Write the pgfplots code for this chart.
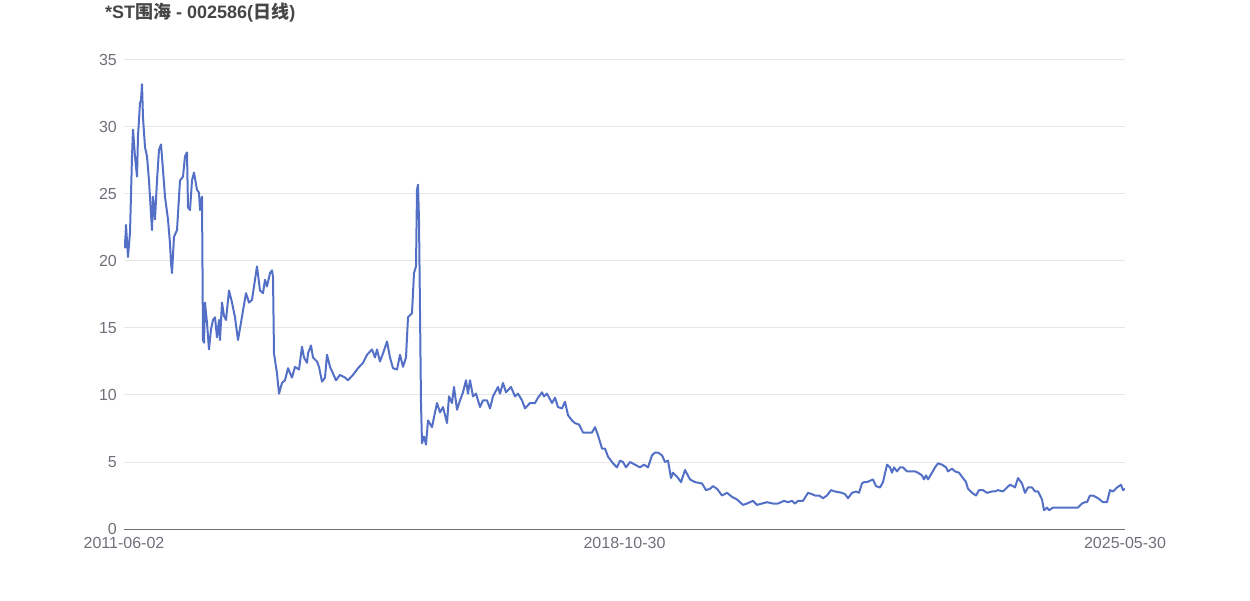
\documentclass[border=0pt]{standalone}
\usepackage{fontspec}
\setmainfont{Liberation Sans}
\newfontfamily\cjk{Noto Sans CJK SC}
\usepackage{pgfplots}
\pgfplotsset{compat=1.18}
\definecolor{linec}{HTML}{5470C6}
\definecolor{gridc}{HTML}{E6E6E6}
\definecolor{axisc}{HTML}{6E7079}
\definecolor{titlec}{HTML}{464646}
\begin{document}
\begin{tikzpicture}[x=1pt,y=1pt]
\path[use as bounding box] (0,0) rectangle (1250,600);
\node[anchor=base west, inner sep=0, text=titlec, font=\fontsize{18}{22}\selectfont\bfseries] at (105,581) {*ST{\cjk 围海} - 002586({\cjk 日线})};
\begin{axis}[
  at={(124pt,71pt)}, anchor=south west,
  scale only axis, width=1001pt, height=469pt,
  xmin=124, xmax=1125, ymin=0, ymax=35,
  ytick={0,5,...,35},
  xtick={124,624.5,1125},
  xticklabels={2011-06-02,2018-10-30,2025-05-30},
  axis x line*=bottom, axis y line*=left,
  y axis line style={draw=none},
  x axis line style={draw=axisc, line width=1pt, -},
  major tick length=0pt,
  ymajorgrids, grid style={draw=gridc, line width=1pt},
  /pgf/number format/assume math mode=true,
  tick label style={font=\fontsize{16}{19}\selectfont, text=axisc},
  yticklabel style={anchor=east, inner sep=0pt, xshift=-7pt},
  xticklabel style={anchor=north, inner sep=0pt, yshift=-8pt},
]
\addplot[linec, line width=2pt, line join=round, mark=none] coordinates {
(124,21.6)(125,21.0)(126,22.7)(128,20.3)(130,22.1)(132,27.8)(133,29.8)(135,27.8)(137,26.3)(138,29.3)
(140,31.8)(141,32.0)(142,33.2)(143,30.7)(145,28.5)(147,27.8)(149,26.0)(152,22.3)(153,24.8)(155,23.1)
(157,26.0)(159,28.3)(161,28.7)(163,26.8)(165,24.8)(168,23.1)(170,21.3)(171,19.9)(172,19.1)(174,21.8)
(177,22.3)(180,26.0)(183,26.3)(185,27.8)(187,28.1)(188,24.0)(190,23.8)(192,26.0)(194,26.6)(197,25.3)
(199,25.1)(200,23.8)(202,24.8)(203,14.1)(204,13.9)(205,16.9)(207,15.4)(209,13.4)(211,14.9)(213,15.6)
(215,15.8)(217,14.3)(219,15.6)(220,14.1)(222,16.9)(224,15.9)(226,15.6)(229,17.8)(232,16.9)(235,15.8)
(238,14.1)(241,15.4)(243,16.3)(246,17.6)(249,16.9)(252,17.1)(255,18.6)(257,19.6)(260,17.8)(263,17.6)
(265,18.6)(267,18.1)(270,19.1)(272,19.3)(273,18.8)(274,13.1)(277,11.6)(279,10.1)(282,10.9)(285,11.1)
(288,12.0)(292,11.3)(295,12.1)(299,11.9)(302,13.6)(304,12.8)(307,12.4)(308,13.1)(311,13.7)(313,12.8)
(317,12.5)(319,12.1)(322,11.0)(325,11.3)(327,13.0)(330,12.1)(333,11.6)(336,11.1)(340,11.5)(345,11.3)
(348,11.1)(353,11.5)(358,12.0)(363,12.4)(367,13.0)(372,13.4)(375,12.8)(377,13.4)(380,12.5)(383,13.1)
(387,14.0)(390,12.8)(393,12.0)(397,11.9)(400,13.0)(403,12.1)(406,12.8)(408,15.8)(412,16.1)(414,19.1)
(416,19.6)(417,25.3)(418,25.7)(419,23.1)(421,9.4)(422,6.4)(424,6.9)(426,6.3)(428,8.1)(432,7.6)
(435,8.7)(437,9.4)(440,8.7)(443,9.1)(447,7.9)(449,9.9)(452,9.4)(454,10.6)(457,8.9)(460,9.6)
(463,10.2)(466,11.1)(468,10.1)(470,11.1)(473,9.9)(476,10.1)(480,9.1)(483,9.6)(487,9.6)(490,9.0)
(493,9.9)(498,10.6)(500,10.1)(503,10.9)(506,10.2)(511,10.6)(515,9.9)(518,10.1)(522,9.6)(525,9.0)
(530,9.4)(535,9.4)(538,9.8)(542,10.2)(544,9.9)(547,10.1)(552,9.4)(555,9.8)(558,9.1)(562,9.0)
(565,9.5)(568,8.5)(572,8.1)(575,7.9)(579,7.8)(583,7.2)(587,7.2)(592,7.2)(595,7.6)(598,7.0)
(602,6.0)(605,6.0)(608,5.4)(613,4.9)(617,4.6)(620,5.1)(623,5.0)(626,4.6)(630,5.0)(635,4.8)
(640,4.6)(644,4.8)(648,4.6)(652,5.5)(655,5.7)(658,5.7)(662,5.5)(665,5.0)(668,5.1)(671,3.8)
(673,4.2)(677,3.9)(681,3.5)(685,4.4)(690,3.7)(695,3.5)(702,3.4)(706,2.9)(710,3.0)(713,3.2)
(717,3.0)(722,2.5)(727,2.7)(732,2.4)(737,2.2)(743,1.8)(747,1.9)(753,2.1)(757,1.8)(762,1.9)
(767,2.0)(773,1.9)(778,1.9)(784,2.1)(788,2.0)(792,2.1)(795,1.9)(798,2.1)(803,2.1)(808,2.7)
(812,2.6)(815,2.5)(819,2.5)(823,2.3)(827,2.5)(831,2.9)(835,2.8)(842,2.7)(845,2.6)(848,2.3)
(852,2.7)(856,2.8)(859,2.7)(862,3.4)(864,3.5)(867,3.5)(870,3.6)(873,3.7)(876,3.2)(880,3.1)
(883,3.5)(887,4.8)(890,4.6)(892,4.2)(894,4.6)(897,4.3)(900,4.6)(903,4.6)(907,4.3)(912,4.3)
(915,4.3)(918,4.2)(922,4.0)(924,3.7)(926,4.0)(928,3.7)(932,4.2)(935,4.6)(938,4.9)(942,4.8)
(946,4.6)(948,4.3)(952,4.5)(955,4.3)(959,4.2)(963,3.8)(966,3.5)(968,3.0)(972,2.7)(976,2.5)
(979,2.9)(983,2.9)(987,2.7)(992,2.8)(995,2.8)(998,2.9)(1003,2.8)(1007,3.1)(1010,3.3)(1013,3.2)
(1015,3.1)(1018,3.8)(1022,3.4)(1025,2.7)(1028,3.1)(1032,3.1)(1035,2.8)(1038,2.8)(1042,2.2)(1044,1.4)
(1047,1.6)(1049,1.4)(1053,1.6)(1060,1.6)(1067,1.6)(1072,1.6)(1075,1.6)(1078,1.6)(1082,1.9)(1085,2.0)
(1087,2.0)(1090,2.5)(1093,2.5)(1098,2.3)(1103,2.0)(1107,2.0)(1110,2.9)(1113,2.8)(1117,3.1)(1121,3.3)
(1123,2.9)(1125,3.0)
};
\end{axis}
\end{tikzpicture}
\end{document}
